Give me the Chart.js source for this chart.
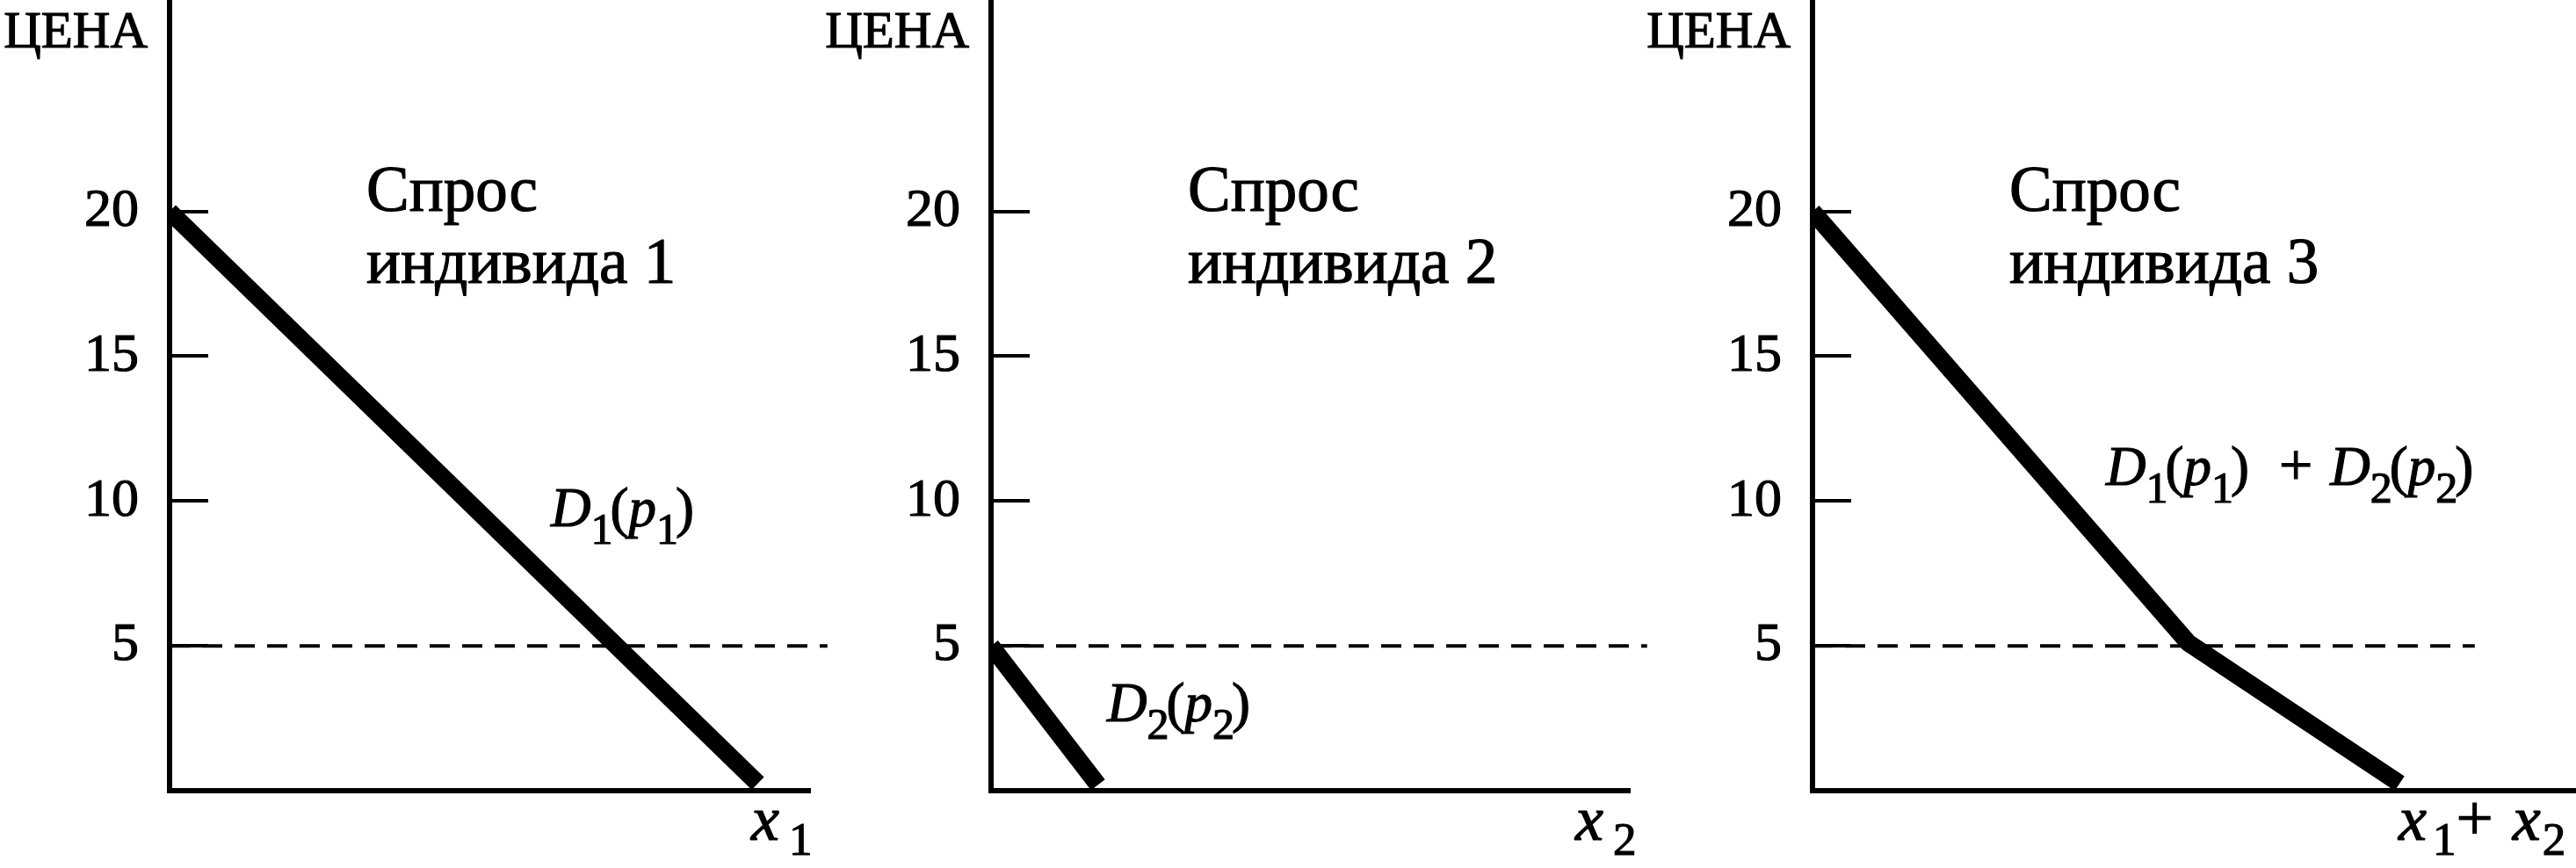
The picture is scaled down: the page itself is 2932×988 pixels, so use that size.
<!DOCTYPE html>
<html lang="ru">
<head>
<meta charset="utf-8">
<title>Спрос индивидов</title>
<script src="https://cdn.jsdelivr.net/npm/chart.js@4.4.1/dist/chart.umd.min.js"></script>
<style>
  html, body { margin: 0; padding: 0; background: #fff; }
  body { position: relative; width: 2932px; height: 988px; overflow: hidden; }
  canvas { position: absolute; top: 0; }
</style>
</head>
<body>
<canvas id="panel1" width="980" height="988" style="left:0px"></canvas>
<canvas id="panel2" width="980" height="988" style="left:920px"></canvas>
<canvas id="panel3" width="1072" height="988" style="left:1860px"></canvas>
<script>
// Данные (цена по вертикали, количество по горизонтали)
const priceTicks = [5, 10, 15, 20];
const priceMax = 27.3;
const quantityMax = [22.1, 22.1, 26.4];

const demand1Q = [0, 20.3];
const demand1P = [20, 0.25];
const demand2Q = [0, 3.7];
const demand2P = [5, 0.2];
const demand3Q = [0, 13.0, 20.3];
const demand3P = [20, 5.1, 0.25];

const refPrice = 5;
const refLineEnd = [22.7, 22.7, 22.9];

const axisTitle = 'ЦЕНА';
const panelTitle = 'Спрос';
const panelSubtitles = ['индивида 1', 'индивида 2', 'индивида 3'];

const FONT = "'Liberation Serif', 'Times New Roman', 'DejaVu Serif', serif";

// Рисует текст с курсивом и нижними индексами
const richText = {
  id: 'richText',
  afterDraw(chart, args, opts) {
    const ctx = chart.ctx;
    const left = chart.chartArea.left;
    ctx.save();
    ctx.fillStyle = '#000';
    ctx.strokeStyle = '#000';
    ctx.lineWidth = 1.2;
    ctx.textBaseline = 'alphabetic';
    ctx.textAlign = 'left';
    (opts.items || []).forEach(item => {
      const fontOf = r => (r.italic ? 'italic ' : '') + (r.size || item.size) + 'px ' + FONT;
      let width = 0;
      item.runs.forEach(r => {
        ctx.font = fontOf(r);
        width += (r.gap || 0) + ctx.measureText(r.t).width;
      });
      let x = left + item.dx - (item.align === 'right' ? width : 0);
      item.runs.forEach(r => {
        ctx.font = fontOf(r);
        x += r.gap || 0;
        ctx.fillText(r.t, x, item.y + (r.dy || 0));
        ctx.strokeText(r.t, x, item.y + (r.dy || 0));
        x += ctx.measureText(r.t).width;
      });
    });
    ctx.restore();
  }
};

const toPoints = (qs, ps) => qs.map((q, i) => ({ x: q, y: ps[i] }));

const sub = (t) => ({ t: t, size: 50, dy: 20 });
const demandLabel = (n) => [
  { t: 'D', italic: true }, sub(n), { t: '(', gap: -3 }, { t: 'p', italic: true }, sub(n), { t: ')', gap: -3 }
];

function makeChart(id, opts) {
  const ctx = document.getElementById(id).getContext('2d');
  return new Chart(ctx, {
    type: 'scatter',
    data: {
      datasets: [{
        data: opts.demand,
        showLine: true,
        borderColor: '#000',
        borderWidth: 20,
        borderCapStyle: 'butt',
        borderJoinStyle: 'miter',
        pointRadius: 0,
        clip: { left: 0, top: 20, right: 20, bottom: 0 }
      }, {
        data: [{ x: 0, y: refPrice }, { x: opts.refEnd, y: refPrice }],
        showLine: true,
        borderColor: '#000',
        borderWidth: 4,
        borderDash: [23, 14],
        pointRadius: 0,
        clip: false
      }]
    },
    options: {
      responsive: false,
      animation: false,
      devicePixelRatio: 1,
      events: [],
      layout: { padding: { left: 0, top: 0, right: opts.padRight, bottom: 0 } },
      plugins: {
        legend: { display: false },
        tooltip: { enabled: false },
        richText: { items: opts.texts }
      },
      scales: {
        x: {
          type: 'linear',
          min: 0,
          max: opts.qMax,
          ticks: { display: false },
          grid: { display: false },
          border: { display: true, color: '#000', width: 6 },
          afterFit(s) { s.height = 88; s.paddingLeft = 0; s.paddingRight = 0; }
        },
        y: {
          type: 'linear',
          min: 0,
          max: priceMax,
          afterBuildTicks(s) { s.ticks = priceTicks.map(v => ({ value: v })); },
          ticks: {
            color: '#000', font: { family: FONT, size: 62 }, padding: 79,
            textStrokeColor: '#000', textStrokeWidth: 1.2
          },
          grid: { drawOnChartArea: false, drawTicks: true, tickLength: -44, lineWidth: 4, color: '#000' },
          border: { display: true, color: '#000', width: 6 },
          afterFit(s) { s.width = opts.yWidth; s.paddingTop = 0; s.paddingBottom = 0; }
        }
      }
    },
    plugins: [richText]
  });
}

function commonTexts(i) {
  return [
    { dx: -25, y: 54, size: 59, align: 'right', runs: [{ t: axisTitle }] },
    { dx: 224, y: 240, size: 73, runs: [{ t: panelTitle }] },
    { dx: 224, y: 322, size: 73, runs: [{ t: panelSubtitles[i] }] }
  ];
}

makeChart('panel1', {
  demand: toPoints(demand1Q, demand1P),
  refEnd: refLineEnd[0],
  qMax: quantityMax[0],
  yWidth: 193,
  padRight: 58,
  texts: commonTexts(0).concat([
    { dx: 434, y: 599, size: 63, runs: demandLabel('1') },
    { dx: 662, y: 956, size: 72, runs: [{ t: 'x', italic: true }, { t: '1', size: 53, dy: 17, gap: 11 }] }
  ])
});

makeChart('panel2', {
  demand: toPoints(demand2Q, demand2P),
  refEnd: refLineEnd[1],
  qMax: quantityMax[1],
  yWidth: 208,
  padRight: 45,
  texts: commonTexts(1).concat([
    { dx: 132, y: 821, size: 63, runs: demandLabel('2') },
    { dx: 665, y: 956, size: 72, runs: [{ t: 'x', italic: true }, { t: '2', size: 53, dy: 17, gap: 11 }] }
  ])
});

makeChart('panel3', {
  demand: toPoints(demand3Q, demand3P),
  refEnd: refLineEnd[2],
  qMax: quantityMax[2],
  yWidth: 203,
  padRight: 0,
  texts: commonTexts(2).concat([
    { dx: 334, y: 552, size: 63, runs: demandLabel('1').concat([{ t: '+', size: 68, gap: 34 }, { t: 'D', italic: true, gap: 20 }, sub('2'), { t: '(', gap: -3 }, { t: 'p', italic: true }, sub('2'), { t: ')', gap: -3 }]) },
    { dx: 667, y: 956, size: 72, runs: [{ t: 'x', italic: true }, { t: '1', size: 53, dy: 17, gap: 7 }, { t: '+', size: 75 }, { t: 'x', italic: true, gap: 22 }, { t: '2', size: 53, dy: 17, gap: 2 }] }
  ])
});
</script>
</body>
</html>
